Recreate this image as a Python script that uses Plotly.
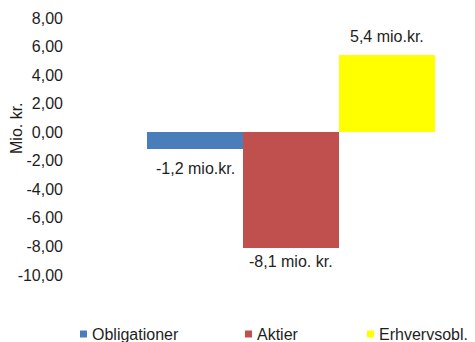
import plotly.graph_objects as go

# Net result per asset class, in mio. kr.
categories = ["Obligationer", "Aktier", "Erhvervsobl."]
values = [-1.2, -8.1, 5.4]
value_labels = ["-1,2 mio.kr.", "-8,1 mio. kr.", "5,4 mio.kr."]
y_ticks = [8, 6, 4, 2, 0, -2, -4, -6, -8, -10]
y_tick_labels = ["8,00", "6,00", "4,00", "2,00", "0,00", "-2,00", "-4,00", "-6,00", "-8,00", "-10,00"]

# styling
colors = ["#4A7EBB", "#C0504D", "#FFFF00"]
label_shift = [-19, -14, 19]          # px offset of each value label from its bar end
legend_text_x = [90, 255, 377]        # px, left edge of legend text
FONT = "Liberation Sans, Arial, sans-serif"
TXT = "#1e1e1e"

W_FIG, H_FIG = 475, 342
M = dict(l=64, r=5, t=18, b=67)
PW = W_FIG - M["l"] - M["r"]
PH = H_FIG - M["t"] - M["b"]


def px_x(px):
    return (px - M["l"]) / PW


def px_y(py):
    return 1 - (py - M["t"]) / PH


fig = go.Figure()

for i, (name, val, col) in enumerate(zip(categories, values, colors)):
    fig.add_trace(go.Bar(
        x=[i], y=[val], width=1.0, name=name,
        marker=dict(color=col, line=dict(width=0)),
        showlegend=False, hoverinfo="name+y",
    ))

annotations = []
# value labels at the end of each bar
for i, (val, lab, dy) in enumerate(zip(values, value_labels, label_shift)):
    annotations.append(dict(
        x=i, y=val, xref="x", yref="y", text=lab, showarrow=False,
        xanchor="center", yanchor="middle", yshift=dy,
        font=dict(family=FONT, size=16, color=TXT),
    ))

# y-axis title
annotations.append(dict(
    x=px_x(16), y=px_y(128), xref="paper", yref="paper", text="Mio. kr.",
    textangle=-90, showarrow=False, xanchor="center", yanchor="middle",
    font=dict(family=FONT, size=16, color=TXT),
))

# legend row: small colour keys with names
shapes = []
LEG_Y = 334
for name, col, tx in zip(categories, colors, legend_text_x):
    annotations.append(dict(
        x=px_x(tx), y=px_y(LEG_Y), xref="paper", yref="paper", text=name,
        showarrow=False, xanchor="left", yanchor="middle",
        font=dict(family=FONT, size=16, color=TXT),
    ))
    shapes.append(dict(
        type="rect", xref="paper", yref="paper",
        x0=px_x(tx - 10), x1=px_x(tx - 3),
        y0=px_y(LEG_Y + 3.5), y1=px_y(LEG_Y - 3.5),
        fillcolor=col, line=dict(width=0),
    ))

fig.update_layout(
    width=W_FIG, height=H_FIG,
    margin=M,
    paper_bgcolor="white", plot_bgcolor="white",
    font=dict(family=FONT, size=16, color=TXT),
    bargap=0,
    showlegend=False,
    annotations=annotations,
    shapes=shapes,
    xaxis=dict(range=[-0.5 - (147 - M["l"]) / 96, -0.5 - (147 - M["l"]) / 96 + PW / 96],
               showticklabels=False, showgrid=False,
               zeroline=False, showline=False, ticks="", fixedrange=True),
    yaxis=dict(range=[-10, 8], tickvals=y_ticks, ticktext=y_tick_labels,
               showgrid=False, zeroline=False, showline=False, ticks="",
               tickfont=dict(family=FONT, size=16, color=TXT), fixedrange=True),
)

fig.write_html("out.html")
